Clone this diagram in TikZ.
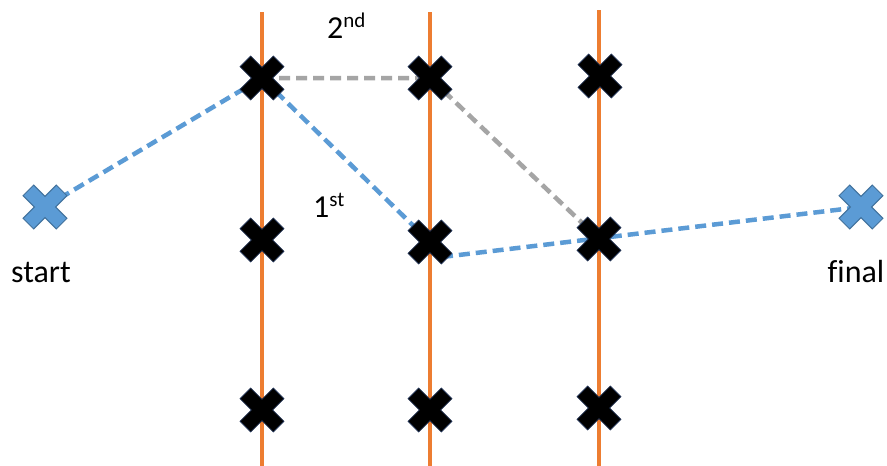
\documentclass[tikz,border=0pt]{standalone}
\usepackage{fontspec}
\setmainfont[Ligatures=NoCommon]{Carlito}
\usetikzlibrary{backgrounds}
\definecolor{orng}{HTML}{ED7D31}
\definecolor{blu}{HTML}{5B9BD5}
\definecolor{bluedge}{HTML}{41719C}
\definecolor{gry}{HTML}{A5A5A5}
\definecolor{darkedge}{HTML}{1F3050}
\tikzset{
  pt/.style={coordinate},
  rail/.style={draw=orng, line width=4pt},
  bluedash/.style={draw=blu, line width=4.5pt, dash pattern=on 11pt off 6pt},
  graydash/.style={draw=gry, line width=4.5pt, dash pattern=on 11pt off 6pt},
  blackx/.style={fill=black, draw=darkedge, line width=0.8pt},
  bluex/.style={fill=blu, draw=bluedge, line width=1pt},
  lbl/.style={inner sep=0pt, font=\fontsize{32}{38}\selectfont}
}
\begin{document}
\begin{tikzpicture}[x=1pt,y=-1pt]
\useasboundingbox[fill=white] (0,0) rectangle (887,466);
% named points
\node[pt] (S)  at (45,207) {};
\node[pt] (F)  at (861,207) {};
\node[pt] (L1) at (262,78) {};
\node[pt] (M1) at (430,78) {};
\node[pt] (R1) at (600,76) {};
\node[pt] (L2) at (262,240) {};
\node[pt] (M2) at (430,242) {};
\node[pt] (R2) at (599,239) {};
\node[pt] (L3) at (262,410) {};
\node[pt] (M3) at (430,410) {};
\node[pt] (R3) at (599,408) {};
\node[pt] (Lt) at (262,12) {};
\node[pt] (Lb) at (262,466) {};
\node[pt] (Mt) at (430,12) {};
\node[pt] (Mb) at (430,466) {};
\node[pt] (Rt) at (599,10) {};
\node[pt] (Rb) at (599,466) {};
\node[pt] (M2o) at (442,257) {};
% rails and paths
\draw[rail] (Lt) -- (Lb);
\draw[rail] (Mt) -- (Mb);
\draw[rail] (Rt) -- (Rb);
\draw[graydash] (L1) -- (M1) -- (R2);
\draw[bluedash] (S) -- (L1) -- (M2);
\draw[bluedash] (M2o) -- (F);
% crosses
\foreach \n in {L1,M1,R1,L2,M2,R2,L3,M3,R3}
  \filldraw[blackx, shift={(\n)}, rotate=45]
    (23.5,7.5) -- (7.5,7.5) -- (7.5,23.5) -- (-7.5,23.5) -- (-7.5,7.5) -- (-23.5,7.5)
    -- (-23.5,-7.5) -- (-7.5,-7.5) -- (-7.5,-23.5) -- (7.5,-23.5) -- (7.5,-7.5) -- (23.5,-7.5) -- cycle;
\foreach \n in {S,F}
  \filldraw[bluex, shift={(\n)}, rotate=45]
    (23.5,7.5) -- (7.5,7.5) -- (7.5,23.5) -- (-7.5,23.5) -- (-7.5,7.5) -- (-23.5,7.5)
    -- (-23.5,-7.5) -- (-7.5,-7.5) -- (-7.5,-23.5) -- (7.5,-23.5) -- (7.5,-7.5) -- (23.5,-7.5) -- cycle;
% labels
\node[lbl, anchor=base] (tstart) at (41,282) {start};
\node[lbl, anchor=base] (tfinal) at (856,282) {final};
\node[lbl, anchor=base west] (tsecond) at (327,38) {2\raisebox{11pt}{\fontsize{21}{21}\selectfont nd}};
\node[lbl, anchor=base west] (tfirst) at (313,217) {1\raisebox{11pt}{\fontsize{21}{21}\selectfont st}};
\end{tikzpicture}
\end{document}
